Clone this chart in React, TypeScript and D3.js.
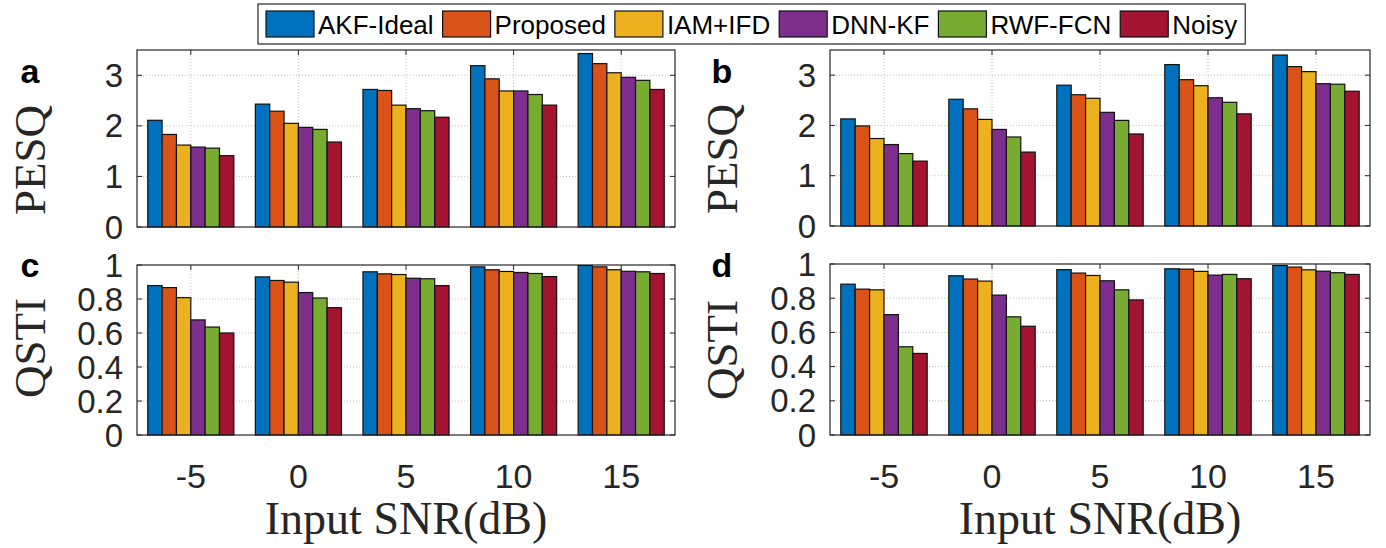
import React from 'react';
import * as d3 from 'd3';

const snrLevels = [-5, 0, 5, 10, 15];
const methods = ['AKF-Ideal', 'Proposed', 'IAM+IFD', 'DNN-KF', 'RWF-FCN', 'Noisy'];
const colors = ['#0072BD', '#D95319', '#EDB120', '#7E2F8E', '#77AC30', '#A2142F'];

// rows follow methods, columns follow snrLevels
const pesqA = [
  [2.11, 2.43, 2.72, 3.19, 3.43],
  [1.83, 2.29, 2.70, 2.93, 3.23],
  [1.62, 2.05, 2.41, 2.69, 3.05],
  [1.58, 1.97, 2.34, 2.69, 2.96],
  [1.56, 1.93, 2.30, 2.62, 2.90],
  [1.41, 1.68, 2.17, 2.41, 2.72],
];
const pesqB = [
  [2.13, 2.52, 2.80, 3.21, 3.40],
  [1.99, 2.33, 2.61, 2.91, 3.17],
  [1.74, 2.12, 2.54, 2.79, 3.07],
  [1.62, 1.92, 2.26, 2.55, 2.83],
  [1.44, 1.77, 2.10, 2.46, 2.82],
  [1.29, 1.47, 1.83, 2.23, 2.68],
];
const qstiC = [
  [0.879, 0.930, 0.960, 0.989, 0.997],
  [0.867, 0.909, 0.948, 0.972, 0.989],
  [0.808, 0.899, 0.944, 0.962, 0.972],
  [0.677, 0.838, 0.922, 0.956, 0.963],
  [0.635, 0.806, 0.919, 0.950, 0.960],
  [0.600, 0.749, 0.879, 0.932, 0.950],
];
const qstiD = [
  [0.882, 0.931, 0.967, 0.972, 0.991],
  [0.853, 0.912, 0.947, 0.970, 0.982],
  [0.849, 0.900, 0.933, 0.957, 0.966],
  [0.704, 0.818, 0.902, 0.935, 0.958],
  [0.516, 0.691, 0.849, 0.939, 0.949],
  [0.477, 0.636, 0.790, 0.914, 0.939],
];

const pesqTicks = [0, 1, 2, 3];
const qstiTicks = [0, 0.2, 0.4, 0.6, 0.8, 1];

const W = 1386;
const H = 548;
const sans = 'Liberation Sans, Arial, Helvetica, sans-serif';
const serif = 'Liberation Serif, Times New Roman, serif';

type PanelProps = {
  tag: string;
  data: number[][];
  x0: number; x1: number; y0: number; y1: number;
  yMax: number;
  ticks: number[];
  yLabel: string;
  labelX: number; labelY: number;
  showX: boolean;
};

const Panel = ({ tag, data, x0, x1, y0, y1, yMax, ticks, yLabel, labelX, labelY, showX }: PanelProps) => {
  const x = d3.scaleLinear().domain([-7.5, 17.5]).range([x0, x1]);
  const y = d3.scaleLinear().domain([0, yMax]).range([y1, y0]);
  const bw = (0.8 * 5) / methods.length;
  const tl = 5;

  return (
    <g>
      {/* grid */}
      {ticks.filter((t) => t > 0 && t < yMax).map((t) => (
        <line key={'gy' + t} x1={x0} x2={x1} y1={y(t)} y2={y(t)}
          stroke="#c4c4c4" strokeWidth={1} strokeDasharray="1,2" />
      ))}
      {snrLevels.map((s) => (
        <line key={'gx' + s} x1={x(s)} x2={x(s)} y1={y0} y2={y1}
          stroke="#c4c4c4" strokeWidth={1} strokeDasharray="1,2" />
      ))}
      {/* bars */}
      {data.map((row, mi) =>
        row.map((v, si) => {
          const left = x(snrLevels[si] + (mi - methods.length / 2) * bw);
          const right = x(snrLevels[si] + (mi - methods.length / 2 + 1) * bw);
          return (
            <rect key={mi + '-' + si} x={left} y={y(v)} width={right - left} height={y(0) - y(v)}
              fill={colors[mi]} stroke="#111" strokeWidth={1.2} />
          );
        })
      )}
      {/* box + ticks */}
      <rect x={x0} y={y0} width={x1 - x0} height={y1 - y0} fill="none" stroke="#262626" strokeWidth={1.2} />
      {ticks.map((t) => (
        <g key={'ty' + t}>
          <line x1={x0} x2={x0 + tl} y1={y(t)} y2={y(t)} stroke="#262626" />
          <line x1={x1} x2={x1 - tl} y1={y(t)} y2={y(t)} stroke="#262626" />
          <text x={x0 - 14} y={y(t)} textAnchor="end" dominantBaseline="central"
            fontFamily={sans} fontSize={33} fill="#262626">{String(t)}</text>
        </g>
      ))}
      {snrLevels.map((s) => (
        <g key={'tx' + s}>
          <line x1={x(s)} x2={x(s)} y1={y0} y2={y0 + tl} stroke="#262626" />
          <line x1={x(s)} x2={x(s)} y1={y1} y2={y1 - tl} stroke="#262626" />
          {showX && (
            <text x={x(s)} y={488} textAnchor="middle" fontFamily={sans} fontSize={34} fill="#262626">{s}</text>
          )}
        </g>
      ))}
      {showX && (
        <text x={(x0 + x1) / 2} y={534} textAnchor="middle" fontFamily={serif} fontSize={46} fill="#262626">
          Input SNR(dB)
        </text>
      )}
      <text transform={`translate(${labelX},${labelY}) rotate(-90)`} textAnchor="middle"
        dominantBaseline="central" fontFamily={serif} fontSize={45} fill="#262626">{yLabel}</text>
      <text x={labelX} y={tag === 'a' || tag === 'b' ? 83 : 277} textAnchor="middle"
        fontFamily={sans} fontWeight="bold" fontSize={34} fill="#000">{tag}</text>
    </g>
  );
};

const Legend = () => {
  const fontSize = 26;
  const ctx = typeof document !== 'undefined' ? document.createElement('canvas').getContext('2d') : null;
  if (ctx) ctx.font = `${fontSize}px ${sans}`;
  const widths = methods.map((m) => (ctx ? ctx.measureText(m).width : m.length * 13));
  const left = 258;
  const top = 4;
  const h = 40;
  const sw = 48;
  const sh = 26;
  let cx = left + 8;
  const items = methods.map((m, i) => {
    const item = { m, i, x: cx };
    cx += sw + 4 + widths[i] + 9;
    return item;
  });
  const right = cx - 9 + 8;
  return (
    <g>
      <rect x={left} y={top} width={right - left} height={h} fill="#fff" stroke="#262626" strokeWidth={1.2} />
      {items.map((it) => (
        <g key={it.m}>
          <rect x={it.x} y={top + (h - sh) / 2} width={sw} height={sh} fill={colors[it.i]} stroke="#111" strokeWidth={1.2} />
          <text x={it.x + sw + 4} y={top + h / 2 + 1} dominantBaseline="central" fontFamily={sans}
            fontSize={fontSize} fill="#000">{it.m}</text>
        </g>
      ))}
    </g>
  );
};

export default function App() {
  return (
    <div style={{ position: 'absolute', left: 0, top: 0 }}>
      <svg width={W} height={H} style={{ display: 'block', background: '#fff' }}>
        <Panel tag="a" data={pesqA} x0={137} x1={675} y0={50} y1={227} yMax={3.5} ticks={pesqTicks}
          yLabel="PESQ" labelX={30} labelY={160} showX={false} />
        <Panel tag="b" data={pesqB} x0={830} x1={1370} y0={50} y1={226} yMax={3.5} ticks={pesqTicks}
          yLabel="PESQ" labelX={722} labelY={159} showX={false} />
        <Panel tag="c" data={qstiC} x0={137} x1={675} y0={265} y1={435} yMax={1} ticks={qstiTicks}
          yLabel="QSTI" labelX={30} labelY={348} showX={true} />
        <Panel tag="d" data={qstiD} x0={830} x1={1370} y0={264} y1={435} yMax={1} ticks={qstiTicks}
          yLabel="QSTI" labelX={722} labelY={350} showX={true} />
        <Legend />
      </svg>
    </div>
  );
}
